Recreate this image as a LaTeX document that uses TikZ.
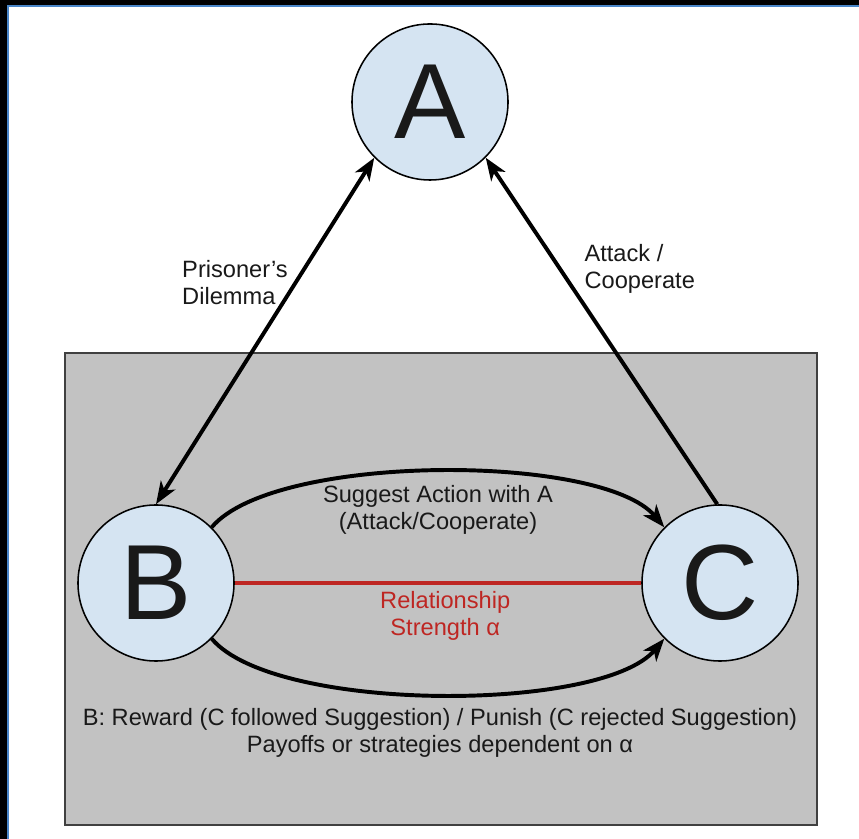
\documentclass[tikz,border=0pt]{standalone}
\usepackage{fontspec}
\setmainfont{Liberation Sans}
\usepackage{tikz}
\usetikzlibrary{arrows.meta,positioning}
\definecolor{agentfill}{RGB}{213,228,242}
\definecolor{panelgray}{RGB}{194,194,194}
\definecolor{relred}{RGB}{190,38,34}
\definecolor{frameblue}{RGB}{74,134,200}

\begin{document}
\begin{tikzpicture}[x=0.025cm,y=0.025cm,>={Stealth[length=16pt,width=12pt,inset=4.5pt]},
  agent/.style={circle,draw=black,line width=1.1pt,fill=agentfill,minimum size=3.9cm,inner sep=0pt,font=\fontsize{76}{80}\selectfont},
  link/.style={line width=2.8pt,black},
  lab/.style={font=\fontsize{16.8}{19.4}\selectfont,inner sep=2pt},every node/.style={text=black!90}]
\useasboundingbox (0,0) rectangle (859,839);
% screenshot edge
\fill[black] (0,0) rectangle (7,839);
\fill[black] (0,834) rectangle (859,839);
\draw[frameblue,line width=1.2pt] (7.8,0) -- (7.8,833.2) -- (859,833.2);
% grey panel round B and C
\draw[fill=panelgray,draw=black!75,line width=1.5pt] (65,486) rectangle (817,14);
\node[agent] (A) at (430,737) {A};
\node[agent] (B) at (156,256) {B};
\node[agent] (C) at (720,256) {C};
\draw[<->,link] (A.225) -- node[lab,left,align=left,pos=0.36,xshift=-0.08cm] {Prisoner’s\\Dilemma} (B.north);
\draw[->,link] (C.92) -- node[lab,right,align=left,pos=0.68,xshift=0.5cm] {Attack /\\Cooperate} (A.-45);
\draw[->,link] (B.45) to[out=50,in=130,looseness=0.55] node[lab,below,align=center,yshift=-0.22cm] {Suggest Action with A\\(Attack/Cooperate)} (C.135);
\draw[relred,line width=2.4pt] (B) -- node[lab,below,align=center,text=relred,xshift=0.18cm,yshift=-0.1cm] {Relationship\\Strength α} (C);
\draw[->,link] (B.-45) to[out=-50,in=-130,looseness=0.55] (C.-135);
\node[lab,align=center] (note) at (440,106) {B: Reward (C followed Suggestion) / Punish (C rejected Suggestion)\\Payoffs or strategies dependent on α};
\end{tikzpicture}
\end{document}
